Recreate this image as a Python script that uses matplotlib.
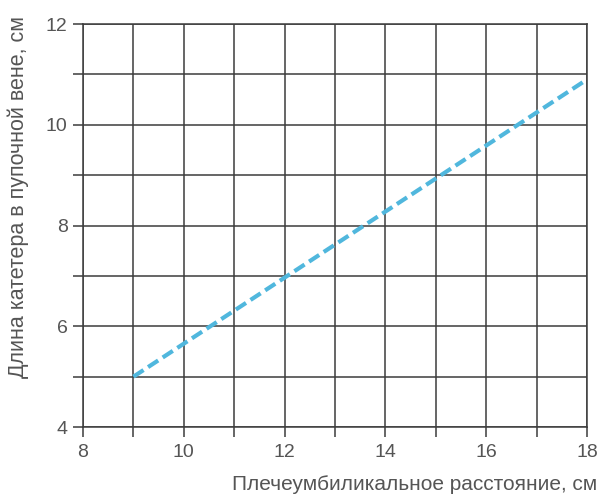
import matplotlib.pyplot as plt
from matplotlib.ticker import MultipleLocator

# данные
x_vals = [9, 18]
y_vals = [5.0, 10.9]
x_ticks = [8, 10, 12, 14, 16, 18]
y_ticks = [4, 6, 8, 10, 12]

plt.rcParams['font.family'] = ['Liberation Sans', 'DejaVu Sans']

fig = plt.figure(figsize=(5.99, 4.96), dpi=100)
ax = fig.add_axes([0.1386, 0.139, 0.8414, 0.8125])

# сетка
grid_color = '#3c3c3c'
ax.set_xlim(8, 18)
ax.set_ylim(4, 12)
ax.xaxis.set_major_locator(MultipleLocator(2))
ax.xaxis.set_minor_locator(MultipleLocator(1))
ax.yaxis.set_major_locator(MultipleLocator(2))
ax.yaxis.set_minor_locator(MultipleLocator(1))
ax.grid(True, which='both', color=grid_color, linewidth=1.1)
for s in ax.spines.values():
    s.set_color(grid_color)
    s.set_linewidth(1.1)

ax.tick_params(which='both', direction='out', length=7, width=1.1,
               color=grid_color, labelcolor='#555555', labelsize=14)
ax.tick_params(axis='x', pad=5)
ax.tick_params(axis='y', pad=4)

# линия
ax.plot(x_vals, y_vals, color='#50b7dd', linewidth=3,
        dashes=(2.9, 1.3), solid_capstyle='butt', zorder=3)

ax.set_xticks(x_ticks)
ax.set_yticks(y_ticks)

fig.text(0.997, 0.024, 'Плечеумбиликальное расстояние, см', ha='right', va='center',
         fontsize=15, color='#555555')
fig.text(0.030, 0.603, 'Длина катетера в пупочной вене, см', rotation=90,
         ha='center', va='center', fontsize=15.5, color='#555555')

fig.savefig('out.png', dpi=100, facecolor='white')
